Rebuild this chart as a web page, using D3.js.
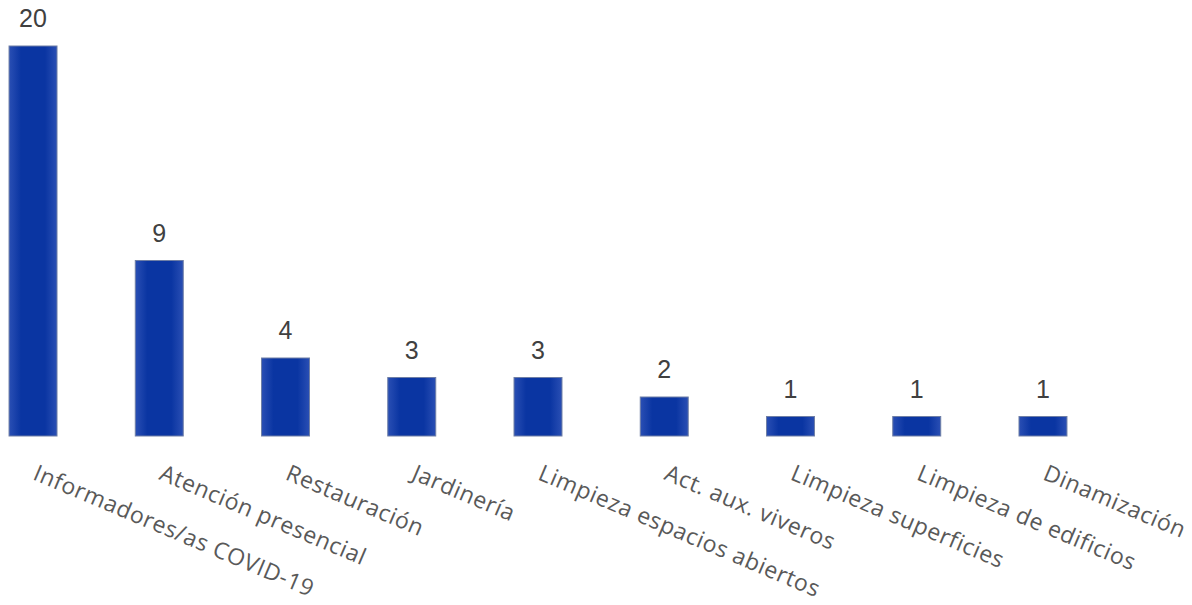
<!DOCTYPE html>
<html>
<head>
<meta charset="utf-8">
<script src="https://cdn.jsdelivr.net/npm/d3@7"></script>
<style>
  body { margin: 0; background: #fff; }
</style>
</head>
<body>
<script>
var categories = ["Informadores/as COVID-19", "Atención presencial", "Restauración", "Jardinería",
  "Limpieza espacios abiertos", "Act. aux. viveros", "Limpieza superficies", "Limpieza de edificios", "Dinamización"];
var values = [20, 9, 4, 3, 3, 2, 1, 1, 1];

var width = 1192, height = 605;
var svg = d3.select("body").append("svg")
  .attr("width", width)
  .attr("height", height);

var defs = svg.append("defs");
var grad = defs.append("linearGradient").attr("id", "barfill")
  .attr("x1", "0%").attr("x2", "100%").attr("y1", "0%").attr("y2", "0%");
grad.append("stop").attr("offset", "0%").attr("stop-color", "#2a4fb4");
grad.append("stop").attr("offset", "25%").attr("stop-color", "#0a35a2");
grad.append("stop").attr("offset", "75%").attr("stop-color", "#0a35a2");
grad.append("stop").attr("offset", "100%").attr("stop-color", "#2a4fb4");

var x = d3.scaleBand()
  .domain(categories)
  .range([-30.1, 1106.1])
  .paddingInner(0.62)
  .paddingOuter(0.31);

var y = d3.scaleLinear()
  .domain([0, 20])
  .range([436, 46]);

var data = categories.map(function(c, i) { return {cat: c, val: values[i]}; });

svg.selectAll("rect.bar")
  .data(data)
  .enter().append("rect")
  .attr("class", "bar")
  .attr("x", function(d) { return x(d.cat); })
  .attr("y", function(d) { return y(d.val); })
  .attr("width", x.bandwidth())
  .attr("height", function(d) { return y(0) - y(d.val); })
  .attr("fill", "url(#barfill)")
  .attr("stroke", "#6f7fa6")
  .attr("stroke-width", 1);

// value labels
svg.selectAll("text.val")
  .data(data)
  .enter().append("text")
  .attr("class", "val")
  .attr("x", function(d) { return x(d.cat) + x.bandwidth() / 2; })
  .attr("y", function(d) { return y(d.val) - 19; })
  .attr("text-anchor", "middle")
  .style("font-family", "'Liberation Sans', Arial, sans-serif")
  .style("font-size", "25px")
  .style("fill", "#404040")
  .text(function(d) { return d.val; });

// category labels, rotated
svg.selectAll("text.cat")
  .data(data)
  .enter().append("text")
  .attr("class", "cat")
  .attr("transform", function(d) {
    return "translate(" + (x(d.cat) + x.bandwidth() / 2 + 6) + ",462) rotate(23)";
  })
  .attr("dy", "0.8em")
  .attr("text-anchor", "start")
  .style("font-family", "'Open Sans', sans-serif")
  .style("font-size", "23px")
  .style("letter-spacing", "0.6px")
  .style("fill", "#595959")
  .text(function(d) { return d.cat; });
</script>
</body>
</html>
